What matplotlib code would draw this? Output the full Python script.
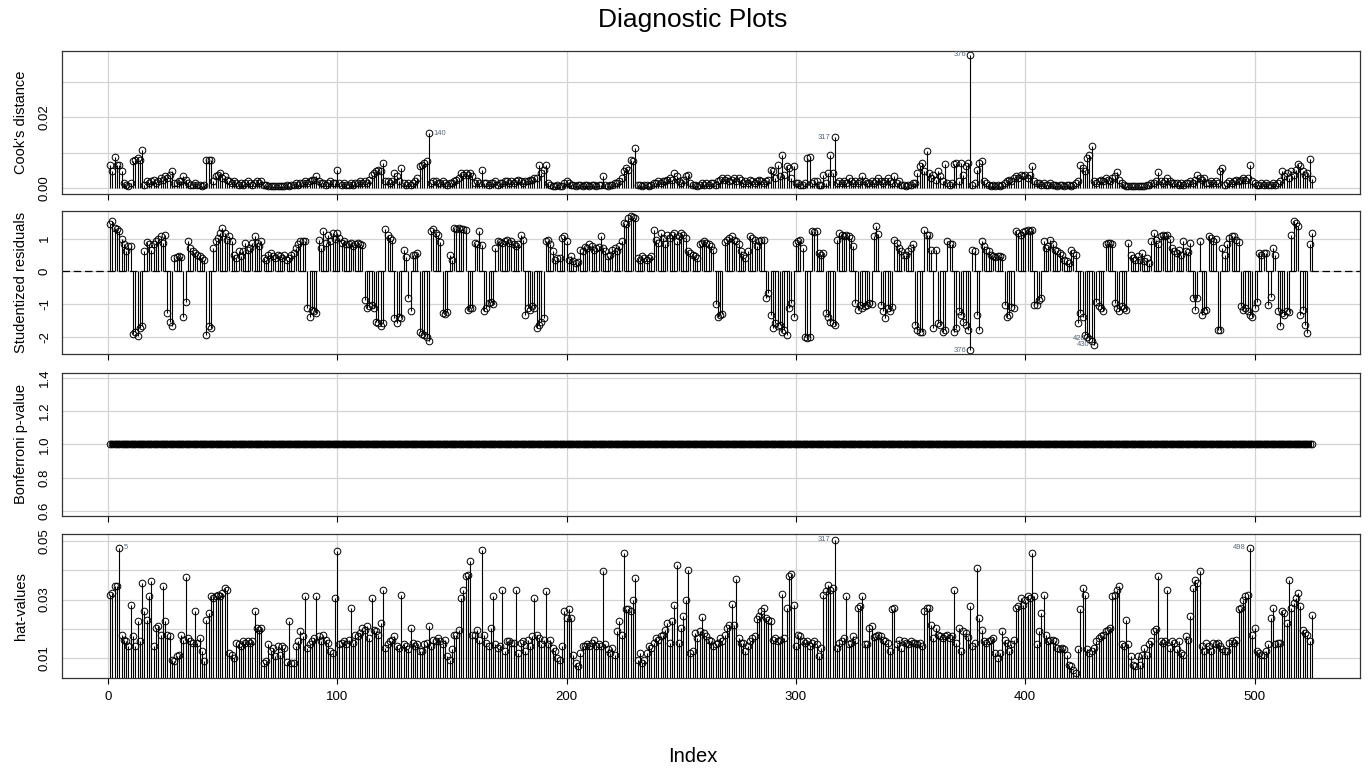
import numpy as np
import matplotlib
matplotlib.use('Agg')
import matplotlib.pyplot as plt

N_OBS = 525

# Cook's distance, observations 1..525 (10 per row)
cooks_d = [
    0.0064, 0.0047, 0.0089, 0.0064, 0.0066, 0.0047, 0.0014, 0.0009, 0.0005, 0.0014,
    0.0077, 0.0080, 0.0084, 0.0080, 0.0108, 0.0009, 0.0019, 0.0014, 0.0019, 0.0023,
    0.0014, 0.0019, 0.0028, 0.0023, 0.0033, 0.0028, 0.0038, 0.0047, 0.0014, 0.0014,
    0.0019, 0.0019, 0.0033, 0.0023, 0.0014, 0.0009, 0.0009, 0.0014, 0.0009, 0.0009,
    0.0005, 0.0009, 0.0080, 0.0079, 0.0080, 0.0019, 0.0033, 0.0038, 0.0042, 0.0028,
    0.0033, 0.0023, 0.0019, 0.0014, 0.0019, 0.0014, 0.0009, 0.0014, 0.0009, 0.0014,
    0.0019, 0.0014, 0.0009, 0.0014, 0.0019, 0.0014, 0.0019, 0.0009, 0.0009, 0.0005,
    0.0005, 0.0005, 0.0005, 0.0005, 0.0005, 0.0005, 0.0005, 0.0009, 0.0005, 0.0009,
    0.0009, 0.0014, 0.0009, 0.0014, 0.0014, 0.0019, 0.0014, 0.0019, 0.0023, 0.0023,
    0.0033, 0.0019, 0.0014, 0.0014, 0.0009, 0.0014, 0.0019, 0.0014, 0.0014, 0.0052,
    0.0014, 0.0009, 0.0014, 0.0009, 0.0009, 0.0014, 0.0009, 0.0014, 0.0014, 0.0019,
    0.0014, 0.0019, 0.0014, 0.0023, 0.0038, 0.0042, 0.0047, 0.0052, 0.0047, 0.0070,
    0.0019, 0.0019, 0.0014, 0.0019, 0.0042, 0.0033, 0.0019, 0.0058, 0.0014, 0.0009,
    0.0014, 0.0009, 0.0014, 0.0019, 0.0028, 0.0061, 0.0066, 0.0070, 0.0075, 0.0155,
    0.0014, 0.0019, 0.0019, 0.0014, 0.0014, 0.0019, 0.0014, 0.0009, 0.0014, 0.0014,
    0.0019, 0.0023, 0.0028, 0.0042, 0.0038, 0.0042, 0.0038, 0.0042, 0.0033, 0.0014,
    0.0019, 0.0014, 0.0052, 0.0014, 0.0014, 0.0009, 0.0014, 0.0014, 0.0019, 0.0009,
    0.0014, 0.0014, 0.0019, 0.0019, 0.0014, 0.0019, 0.0014, 0.0019, 0.0023, 0.0019,
    0.0014, 0.0019, 0.0019, 0.0023, 0.0023, 0.0028, 0.0028, 0.0066, 0.0042, 0.0052,
    0.0066, 0.0014, 0.0009, 0.0005, 0.0005, 0.0009, 0.0005, 0.0005, 0.0014, 0.0019,
    0.0014, 0.0009, 0.0009, 0.0005, 0.0009, 0.0009, 0.0005, 0.0009, 0.0009, 0.0005,
    0.0009, 0.0009, 0.0005, 0.0009, 0.0009, 0.0033, 0.0009, 0.0005, 0.0009, 0.0009,
    0.0014, 0.0014, 0.0019, 0.0028, 0.0047, 0.0056, 0.0052, 0.0080, 0.0075, 0.0113,
    0.0009, 0.0009, 0.0005, 0.0009, 0.0009, 0.0005, 0.0009, 0.0014, 0.0014, 0.0019,
    0.0014, 0.0019, 0.0019, 0.0023, 0.0028, 0.0023, 0.0042, 0.0033, 0.0019, 0.0014,
    0.0023, 0.0033, 0.0038, 0.0014, 0.0009, 0.0009, 0.0005, 0.0009, 0.0014, 0.0009,
    0.0014, 0.0009, 0.0014, 0.0014, 0.0009, 0.0019, 0.0023, 0.0028, 0.0023, 0.0028,
    0.0019, 0.0023, 0.0028, 0.0019, 0.0028, 0.0023, 0.0014, 0.0019, 0.0014, 0.0023,
    0.0019, 0.0014, 0.0019, 0.0023, 0.0019, 0.0014, 0.0019, 0.0023, 0.0052, 0.0047,
    0.0028, 0.0066, 0.0033, 0.0094, 0.0038, 0.0061, 0.0056, 0.0028, 0.0061, 0.0014,
    0.0014, 0.0009, 0.0009, 0.0014, 0.0085, 0.0089, 0.0014, 0.0019, 0.0019, 0.0009,
    0.0009, 0.0038, 0.0014, 0.0042, 0.0094, 0.0042, 0.0143, 0.0014, 0.0019, 0.0014,
    0.0019, 0.0014, 0.0028, 0.0019, 0.0014, 0.0019, 0.0014, 0.0019, 0.0033, 0.0019,
    0.0014, 0.0014, 0.0019, 0.0014, 0.0019, 0.0028, 0.0019, 0.0014, 0.0019, 0.0028,
    0.0019, 0.0014, 0.0033, 0.0014, 0.0019, 0.0009, 0.0009, 0.0005, 0.0009, 0.0009,
    0.0014, 0.0014, 0.0042, 0.0061, 0.0070, 0.0047, 0.0104, 0.0042, 0.0028, 0.0038,
    0.0023, 0.0047, 0.0033, 0.0019, 0.0068, 0.0014, 0.0009, 0.0014, 0.0068, 0.0070,
    0.0019, 0.0070, 0.0038, 0.0061, 0.0070, 0.0377, 0.0009, 0.0014, 0.0052, 0.0070,
    0.0077, 0.0019, 0.0014, 0.0009, 0.0005, 0.0009, 0.0005, 0.0009, 0.0005, 0.0009,
    0.0014, 0.0019, 0.0023, 0.0019, 0.0028, 0.0033, 0.0028, 0.0038, 0.0033, 0.0038,
    0.0028, 0.0038, 0.0061, 0.0019, 0.0014, 0.0014, 0.0009, 0.0014, 0.0009, 0.0009,
    0.0014, 0.0009, 0.0009, 0.0005, 0.0009, 0.0009, 0.0005, 0.0009, 0.0009, 0.0005,
    0.0009, 0.0014, 0.0019, 0.0064, 0.0056, 0.0047, 0.0085, 0.0094, 0.0119, 0.0019,
    0.0014, 0.0019, 0.0023, 0.0019, 0.0028, 0.0023, 0.0019, 0.0028, 0.0033, 0.0045,
    0.0023, 0.0014, 0.0009, 0.0005, 0.0005, 0.0005, 0.0005, 0.0005, 0.0005, 0.0005,
    0.0005, 0.0005, 0.0009, 0.0009, 0.0014, 0.0014, 0.0019, 0.0045, 0.0019, 0.0014,
    0.0019, 0.0028, 0.0019, 0.0014, 0.0014, 0.0014, 0.0009, 0.0014, 0.0009, 0.0014,
    0.0014, 0.0019, 0.0014, 0.0023, 0.0038, 0.0028, 0.0023, 0.0028, 0.0014, 0.0014,
    0.0019, 0.0014, 0.0019, 0.0014, 0.0047, 0.0056, 0.0009, 0.0014, 0.0019, 0.0014,
    0.0019, 0.0023, 0.0019, 0.0023, 0.0028, 0.0023, 0.0028, 0.0066, 0.0019, 0.0014,
    0.0009, 0.0009, 0.0014, 0.0009, 0.0014, 0.0009, 0.0009, 0.0014, 0.0009, 0.0014,
    0.0019, 0.0047, 0.0033, 0.0042, 0.0028, 0.0047, 0.0038, 0.0052, 0.0068, 0.0061,
    0.0047, 0.0038, 0.0042, 0.0082, 0.0025,
]

# Studentized residuals
stud_res = [
    1.45, 1.53, 1.33, 1.30, 1.22, 1.00, 0.82, 0.63, 0.77, 0.77,
    -1.92, -1.85, -1.97, -1.72, -1.68, 0.62, 0.88, 0.82, 0.66, 0.84,
    0.92, 1.00, 1.07, 0.87, 1.10, -1.28, -1.53, -1.68, 0.42, 0.43,
    0.46, 0.44, -1.38, -0.92, 0.92, 0.70, 0.62, 0.56, 0.51, 0.46,
    0.41, 0.36, -1.94, -1.68, -1.73, 0.72, 0.92, 1.02, 1.17, 1.33,
    1.17, 0.97, 1.07, 0.92, 0.51, 0.41, 0.61, 0.46, 0.61, 0.87,
    0.66, 0.72, 0.87, 1.07, 0.87, 0.77, 0.92, 0.41, 0.36, 0.51,
    0.56, 0.46, 0.41, 0.51, 0.46, 0.41, 0.51, 0.36, 0.41, 0.51,
    0.56, 0.72, 0.82, 0.92, 0.92, 0.92, -1.12, -1.38, -1.17, -1.22,
    -1.28, 0.97, 0.72, 1.22, 0.87, 1.12, 0.92, 1.17, 1.00, 1.17,
    1.02, 0.87, 0.92, 0.82, 0.82, 0.87, 0.77, 0.82, 0.87, 0.82,
    0.80, -0.87, -1.12, -1.07, -1.02, -1.12, -1.53, -1.58, -1.68, -1.58,
    1.28, 1.12, 1.02, 0.97, -1.43, -1.58, -1.38, -1.43, 0.66, 0.45,
    -0.82, -1.20, 0.51, 0.50, 0.56, -1.84, -1.90, -1.95, -2.00, -2.11,
    1.22, 1.28, 1.17, 1.12, 0.90, -1.28, -1.30, -1.25, 0.51, 0.36,
    1.33, 1.28, 1.33, 1.28, 1.30, 1.25, -1.17, -1.12, -1.12, 0.87,
    0.84, 1.22, 0.80, -1.22, -1.12, -0.97, -0.92, -1.00, 0.72, 0.92,
    0.90, 0.85, 0.92, 0.97, 0.87, 0.92, 0.84, 0.77, 0.82, 1.12,
    0.97, -1.33, -1.12, -1.17, -1.07, -1.12, -1.73, -1.63, -1.53, -1.43,
    0.92, 0.97, 0.82, 0.61, 0.36, 0.41, 0.41, 1.02, 1.07, 0.92,
    0.36, 0.46, 0.31, 0.26, 0.30, 0.66, 0.61, 0.73, 0.71, 0.82,
    0.77, 0.66, 0.71, 0.73, 1.07, 0.71, 0.61, 0.46, 0.51, 0.66,
    0.71, 0.61, 0.77, 0.92, 1.48, 1.43, 1.63, 1.68, 1.66, 1.64,
    0.41, 0.36, 0.46, 0.41, 0.36, 0.41, 0.46, 1.25, 0.97, 0.87,
    1.17, 1.02, 0.82, 1.12, 1.02, 1.12, 1.17, 0.92, 1.07, 1.17,
    1.12, 1.02, 0.61, 0.56, 0.51, 0.46, 0.41, 0.82, 0.87, 0.92,
    0.87, 0.82, 0.77, 0.66, -1.00, -1.38, -1.33, -1.30, 0.90, 0.97,
    1.02, 1.07, 0.97, 0.92, 0.82, 0.61, 0.51, 0.41, 0.61, 1.07,
    1.02, 0.97, 0.77, 0.92, 0.97, 0.95, -0.82, -0.66, -1.33, -1.73,
    -1.58, -1.68, -1.63, -1.84, -1.78, -1.94, -1.12, -0.97, -1.38, 0.87,
    0.92, 0.97, 0.72, -1.99, -2.04, -2.01, 1.22, 1.20, 1.22, 0.56,
    0.51, 0.56, -1.28, -1.38, -1.53, -1.58, -1.63, 0.97, 1.17, 1.12,
    1.07, 1.12, 1.07, 1.02, 0.77, -0.97, -1.17, -1.02, -1.12, -1.07,
    -1.02, -0.97, -1.00, 1.07, 1.38, 1.14, -1.02, -1.22, -1.43, -1.12,
    -1.22, -1.10, 0.97, 0.87, 0.72, 0.61, 0.51, 0.51, 0.61, 0.70,
    0.82, -1.63, -1.78, -1.84, -1.84, 1.27, 1.12, 1.12, 0.66, -1.73,
    0.66, -1.58, -1.63, -1.84, -1.78, 0.92, 0.82, 0.84, -1.84, -1.73,
    -1.22, -1.33, -1.53, -1.63, -1.78, -2.41, 0.66, 0.61, -1.33, -1.78,
    0.94, 0.77, 0.66, 0.63, 0.51, 0.46, 0.43, 0.46, 0.46, 0.44,
    -1.02, -1.38, -1.33, -1.10, -1.12, 1.24, 1.17, 1.10, 1.20, 1.22,
    1.27, 1.24, 1.27, -1.02, -1.04, -0.87, -0.82, 0.92, 0.72, 0.77,
    0.97, 0.82, 0.66, 0.61, 0.56, 0.51, 0.36, 0.31, 0.26, 0.66,
    0.56, 0.51, -1.58, -1.28, -1.38, -1.94, -2.00, -2.06, -2.12, -2.24,
    -0.92, -1.07, -1.12, -1.22, 0.82, 0.87, 0.87, 0.82, -0.97, -1.12,
    -1.22, -1.07, -1.12, -1.17, 0.87, 0.51, 0.41, 0.36, 0.46, 0.36,
    0.56, 0.31, 0.41, 0.26, 0.92, 1.17, 0.97, 0.82, 1.07, 1.12,
    1.07, 1.10, 1.00, 0.72, 0.61, 0.56, 0.66, 0.51, 0.92, 0.61,
    0.60, 0.87, -0.82, -1.17, -0.82, 0.94, -1.33, -1.22, -1.17, 1.07,
    1.02, 0.92, 1.00, -1.78, -1.80, 0.72, 0.51, 0.82, 1.02, 1.07,
    1.07, 0.97, 0.90, -1.07, -1.17, -1.12, -1.22, -1.33, -1.38, -1.12,
    -0.92, 0.56, 0.51, 0.56, 0.55, -1.02, -0.77, 0.72, 0.51, -1.22,
    -1.68, -1.28, -1.33, -1.22, -1.25, 1.12, 1.53, 1.48, 1.38, -1.33,
    -1.17, -1.63, -1.89, 0.82, 1.17,
]

# Bonferroni p-values: every observation sits at 1
bonf_p = [1.0] * N_OBS

# hat-values
hat_values = [
    0.0317, 0.0323, 0.0345, 0.0345, 0.0477, 0.0180, 0.0163, 0.0157, 0.0140, 0.0283,
    0.0174, 0.0140, 0.0226, 0.0157, 0.0357, 0.0260, 0.0231, 0.0311, 0.0363, 0.0140,
    0.0203, 0.0208, 0.0180, 0.0345, 0.0226, 0.0180, 0.0174, 0.0094, 0.0089, 0.0106,
    0.0111, 0.0180, 0.0163, 0.0376, 0.0168, 0.0157, 0.0151, 0.0260, 0.0151, 0.0168,
    0.0123, 0.0089, 0.0231, 0.0254, 0.0311, 0.0305, 0.0311, 0.0317, 0.0311, 0.0323,
    0.0340, 0.0334, 0.0117, 0.0111, 0.0100, 0.0151, 0.0146, 0.0140, 0.0157, 0.0151,
    0.0157, 0.0151, 0.0157, 0.0260, 0.0203, 0.0197, 0.0203, 0.0083, 0.0089, 0.0146,
    0.0123, 0.0134, 0.0106, 0.0140, 0.0111, 0.0140, 0.0134, 0.0085, 0.0226, 0.0083,
    0.0083, 0.0140, 0.0157, 0.0191, 0.0174, 0.0311, 0.0134, 0.0146, 0.0157, 0.0168,
    0.0311, 0.0174, 0.0157, 0.0180, 0.0163, 0.0151, 0.0123, 0.0117, 0.0305, 0.0468,
    0.0146, 0.0151, 0.0157, 0.0146, 0.0163, 0.0271, 0.0151, 0.0180, 0.0174, 0.0186,
    0.0203, 0.0197, 0.0208, 0.0168, 0.0305, 0.0197, 0.0191, 0.0180, 0.0220, 0.0334,
    0.0134, 0.0146, 0.0157, 0.0163, 0.0174, 0.0140, 0.0134, 0.0317, 0.0146, 0.0140,
    0.0129, 0.0203, 0.0151, 0.0140, 0.0146, 0.0123, 0.0123, 0.0146, 0.0151, 0.0208,
    0.0140, 0.0163, 0.0157, 0.0168, 0.0157, 0.0146, 0.0163, 0.0106, 0.0094, 0.0129,
    0.0180, 0.0180, 0.0197, 0.0305, 0.0334, 0.0380, 0.0385, 0.0431, 0.0180, 0.0180,
    0.0197, 0.0160, 0.0471, 0.0180, 0.0151, 0.0140, 0.0203, 0.0311, 0.0146, 0.0134,
    0.0140, 0.0334, 0.0123, 0.0157, 0.0157, 0.0151, 0.0151, 0.0334, 0.0117, 0.0151,
    0.0157, 0.0123, 0.0163, 0.0140, 0.0174, 0.0305, 0.0180, 0.0168, 0.0146, 0.0163,
    0.0328, 0.0146, 0.0163, 0.0134, 0.0123, 0.0100, 0.0094, 0.0140, 0.0260, 0.0237,
    0.0266, 0.0237, 0.0111, 0.0083, 0.0071, 0.0117, 0.0140, 0.0140, 0.0146, 0.0140,
    0.0151, 0.0163, 0.0140, 0.0146, 0.0140, 0.0397, 0.0146, 0.0129, 0.0117, 0.0134,
    0.0111, 0.0191, 0.0226, 0.0180, 0.0460, 0.0266, 0.0266, 0.0260, 0.0300, 0.0374,
    0.0094, 0.0117, 0.0083, 0.0094, 0.0117, 0.0140, 0.0134, 0.0151, 0.0168, 0.0163,
    0.0174, 0.0180, 0.0197, 0.0220, 0.0151, 0.0226, 0.0283, 0.0420, 0.0151, 0.0203,
    0.0243, 0.0300, 0.0403, 0.0117, 0.0123, 0.0186, 0.0168, 0.0191, 0.0240, 0.0186,
    0.0174, 0.0163, 0.0157, 0.0140, 0.0146, 0.0151, 0.0168, 0.0157, 0.0180, 0.0203,
    0.0214, 0.0285, 0.0214, 0.0370, 0.0168, 0.0151, 0.0151, 0.0123, 0.0140, 0.0157,
    0.0168, 0.0174, 0.0235, 0.0243, 0.0260, 0.0271, 0.0237, 0.0231, 0.0226, 0.0163,
    0.0168, 0.0157, 0.0163, 0.0320, 0.0168, 0.0271, 0.0380, 0.0388, 0.0280, 0.0140,
    0.0180, 0.0174, 0.0157, 0.0151, 0.0157, 0.0140, 0.0151, 0.0157, 0.0146, 0.0106,
    0.0134, 0.0317, 0.0328, 0.0351, 0.0334, 0.0340, 0.0505, 0.0134, 0.0151, 0.0157,
    0.0168, 0.0311, 0.0146, 0.0151, 0.0174, 0.0160, 0.0271, 0.0277, 0.0311, 0.0146,
    0.0146, 0.0203, 0.0208, 0.0170, 0.0174, 0.0180, 0.0174, 0.0160, 0.0157, 0.0151,
    0.0123, 0.0266, 0.0271, 0.0146, 0.0163, 0.0134, 0.0157, 0.0151, 0.0146, 0.0157,
    0.0151, 0.0151, 0.0146, 0.0151, 0.0140, 0.0260, 0.0271, 0.0271, 0.0214, 0.0168,
    0.0203, 0.0180, 0.0174, 0.0168, 0.0174, 0.0180, 0.0168, 0.0174, 0.0334, 0.0151,
    0.0203, 0.0123, 0.0191, 0.0186, 0.0170, 0.0277, 0.0140, 0.0151, 0.0408, 0.0237,
    0.0197, 0.0157, 0.0151, 0.0157, 0.0163, 0.0168, 0.0117, 0.0100, 0.0117, 0.0191,
    0.0163, 0.0151, 0.0123, 0.0146, 0.0163, 0.0271, 0.0277, 0.0305, 0.0283, 0.0300,
    0.0311, 0.0305, 0.0460, 0.0311, 0.0146, 0.0191, 0.0254, 0.0317, 0.0180, 0.0157,
    0.0163, 0.0163, 0.0157, 0.0134, 0.0129, 0.0134, 0.0129, 0.0111, 0.0077, 0.0071,
    0.0060, 0.0049, 0.0129, 0.0266, 0.0340, 0.0317, 0.0129, 0.0117, 0.0123, 0.0134,
    0.0157, 0.0168, 0.0174, 0.0180, 0.0191, 0.0197, 0.0203, 0.0311, 0.0317, 0.0334,
    0.0345, 0.0146, 0.0140, 0.0231, 0.0146, 0.0106, 0.0077, 0.0071, 0.0106, 0.0077,
    0.0111, 0.0134, 0.0111, 0.0146, 0.0157, 0.0191, 0.0200, 0.0380, 0.0157, 0.0151,
    0.0157, 0.0334, 0.0134, 0.0157, 0.0151, 0.0129, 0.0157, 0.0117, 0.0111, 0.0174,
    0.0160, 0.0243, 0.0340, 0.0368, 0.0357, 0.0397, 0.0140, 0.0123, 0.0151, 0.0140,
    0.0123, 0.0151, 0.0146, 0.0151, 0.0140, 0.0129, 0.0123, 0.0123, 0.0151, 0.0157,
    0.0151, 0.0163, 0.0266, 0.0271, 0.0300, 0.0311, 0.0317, 0.0477, 0.0180, 0.0203,
    0.0123, 0.0117, 0.0111, 0.0111, 0.0123, 0.0146, 0.0237, 0.0271, 0.0146, 0.0151,
    0.0151, 0.0260, 0.0254, 0.0220, 0.0368, 0.0271, 0.0288, 0.0305, 0.0323, 0.0277,
    0.0197, 0.0186, 0.0180, 0.0157, 0.0248,
]

# labelled observations: (index, side)
cook_ids = [(140, 'right'), (317, 'left'), (376, 'left')]
stud_ids = [(376, 'left'), (428, 'left'), (430, 'left')]
hat_ids = [(5, 'right'), (317, 'left'), (498, 'left')]

x_ticks = [0, 100, 200, 300, 400, 500]
cook_ticks = [0.00, 0.01, 0.02, 0.03]
cook_labels = ['0.00', '', '0.02', '']
stud_ticks = [-2, -1, 0, 1]
stud_labels = ['-2', '-1', '0', '1']
bonf_ticks = [0.6, 0.8, 1.0, 1.2, 1.4]
bonf_labels = ['0.6', '0.8', '1.0', '1.2', '1.4']
hat_ticks = [0.01, 0.02, 0.03, 0.04, 0.05]
hat_labels = ['0.01', '', '0.03', '', '0.05']

LABEL_COLOR = '#5b6878'


def add_ids(ax, y, ids):
    for idx, side in ids:
        off = 3 if side == 'right' else -3
        ax.annotate(str(idx), (idx, y[idx - 1]), xytext=(off, 0),
                    textcoords='offset points',
                    ha='left' if side == 'right' else 'right', va='center',
                    fontsize=5.5, color=LABEL_COLOR)


def panel(ax, y, ylabel, ticks, labels, ylim, stems=True, ids=()):
    x = np.arange(1, len(y) + 1)
    y = np.asarray(y)
    ax.set_axisbelow(True)
    ax.grid(True, color='#d3d3d3', linewidth=0.9)
    if stems:
        ax.vlines(x, 0, y, color='black', linewidth=0.8)
    else:
        # overlapping circles merge into one solid band
        ax.plot(x, y, '-', color='black', linewidth=4.6, solid_capstyle='butt')
    ax.plot(x, y, 'o', mfc='none', mec='black', ms=4.8, mew=0.7)
    add_ids(ax, y, ids)
    ax.set_xlim(1 - 0.04 * (N_OBS - 1), N_OBS + 0.04 * (N_OBS - 1))
    ax.set_ylim(*ylim)
    ax.set_xticks(x_ticks)
    ax.set_yticks(ticks)
    ax.set_yticklabels(labels, rotation=90, va='center', fontsize=9.5)
    ax.tick_params(axis='y', length=0, pad=8)
    ax.tick_params(axis='x', length=4, width=0.8, labelsize=9.5, pad=5)
    for s in ax.spines.values():
        s.set_linewidth(0.9)
        s.set_color('#333333')
    ax.set_ylabel(ylabel, fontsize=10.5)
    ax.yaxis.set_label_coords(-0.026, 0.5)


def renderGraph() -> None:
    plt.rcParams['font.family'] = ['Liberation Sans', 'DejaVu Sans']
    fig = plt.figure(figsize=(13.7, 7.71), dpi=100)
    W, H = 1370, 771
    left, width = 62 / W, 1298 / W
    rows = [(50.7, 193.7), (211.3, 353.7), (372.7, 516.0), (534.0, 678.0)]
    axes = [fig.add_axes([left, 1 - b / H, width, (b - t) / H]) for t, b in rows]
    ax_c, ax_s, ax_b, ax_h = axes

    panel(ax_c, cooks_d, "Cook's distance", cook_ticks, cook_labels,
          (-0.0016, 0.0388), ids=cook_ids)
    panel(ax_s, stud_res, 'Studentized residuals', stud_ticks, stud_labels,
          (-2.51, 1.83), ids=stud_ids)
    ax_s.axhline(0, color='black', linewidth=0.9, dashes=(6, 3))
    panel(ax_b, bonf_p, 'Bonferroni p-value', bonf_ticks, bonf_labels,
          (0.568, 1.432), stems=False)
    panel(ax_h, hat_values, 'hat-values', hat_ticks, hat_labels,
          (0.0031, 0.0525), ids=hat_ids)

    for ax in axes[:-1]:
        ax.tick_params(axis='x', labelbottom=False)

    fig.text(693 / W, 1 - 20 / H, 'Diagnostic Plots', ha='center',
             va='center', fontsize=19)
    fig.text(693 / W, 1 - 757 / H, 'Index', ha='center', va='center',
             fontsize=14.5)
    fig.savefig('out.png', dpi=100)


if __name__ == '__main__':
    renderGraph()
